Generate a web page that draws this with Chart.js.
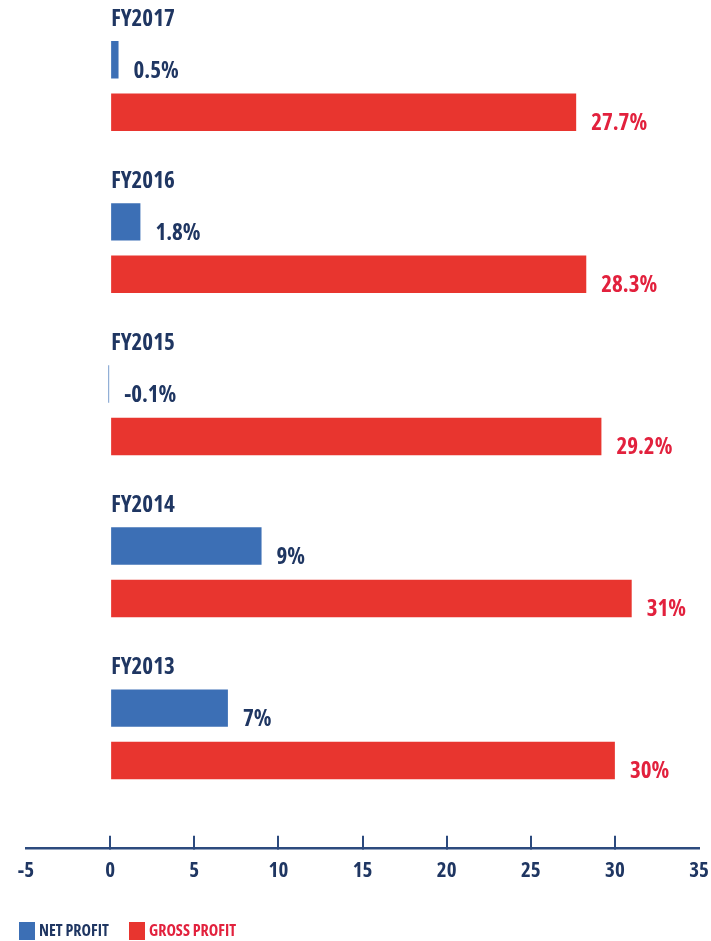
<!DOCTYPE html>
<html>
<head>
<meta charset="utf-8">
<script src="https://cdn.jsdelivr.net/npm/chart.js@4/dist/chart.umd.min.js"></script>
<style>
  html, body { margin: 0; padding: 0; background: #ffffff; }
  #wrap { width: 711px; height: 941px; position: relative; }
</style>
</head>
<body>
<div id="wrap"><canvas id="chart"></canvas></div>
<script>
// Margin figures by financial year (percent)
const years = ['FY2017', 'FY2016', 'FY2015', 'FY2014', 'FY2013'];
const netProfit = [0.5, 1.8, -0.1, 9, 7];
const grossProfit = [27.7, 28.3, 29.2, 31, 30];
const seriesNames = ['NET PROFIT', 'GROSS PROFIT'];
const xTicks = [-5, 0, 5, 10, 15, 20, 25, 30, 35];

const FAMILY = "'Open Sans'";
const fontStr = (px) => `bold condensed ${px}px ${FAMILY}`;
const NAVY = '#1f3662';
const AXIS = '#2c4a7e';
const BLUE = '#3c6fb5';
const RED = '#e8352f';
const RED_TEXT = '#e2213d';
const textColors = [NAVY, RED_TEXT];

// Year captions sit above each pair of bars
const yearLabels = {
  id: 'yearLabels',
  afterDatasetsDraw(chart) {
    const { ctx, scales: { x, y } } = chart;
    ctx.save();
    ctx.font = fontStr(23);
    ctx.fillStyle = NAVY;
    ctx.textAlign = 'left';
    ctx.textBaseline = 'middle';
    years.forEach((name, i) => {
      ctx.fillText(name, x.getPixelForValue(0) + 1, y.getPixelForValue(i) - 67);
    });
    ctx.restore();
  }
};

// Percent value printed just past the end of every bar
const valueLabels = {
  id: 'valueLabels',
  afterDatasetsDraw(chart) {
    const { ctx } = chart;
    ctx.save();
    ctx.font = fontStr(23);
    ctx.textAlign = 'left';
    ctx.textBaseline = 'alphabetic';
    chart.data.datasets.forEach((ds, di) => {
      const meta = chart.getDatasetMeta(di);
      ctx.fillStyle = textColors[di];
      meta.data.forEach((bar, i) => {
        const p = bar.getProps(['x', 'y', 'base', 'height'], true);
        const end = Math.max(p.x, p.base);
        ctx.fillText(ds.data[i].x + '%', end + 15, p.y + p.height / 2 - 1);
      });
    });
    ctx.restore();
  }
};

// Key along the bottom-left edge
const bottomKey = {
  id: 'bottomKey',
  afterDraw(chart) {
    const { ctx } = chart;
    const slots = [19, 129];
    ctx.save();
    ctx.font = fontStr(16);
    ctx.textAlign = 'left';
    ctx.textBaseline = 'middle';
    chart.data.datasets.forEach((ds, di) => {
      const left = slots[di];
      ctx.fillStyle = ds.backgroundColor;
      ctx.fillRect(left, 922, 16, 18);
      ctx.fillStyle = textColors[di];
      ctx.fillText(ds.label, left + 20, 931);
    });
    ctx.restore();
  }
};

new Chart(document.getElementById('chart'), {
  type: 'bar',
  data: {
    datasets: [
      {
        label: seriesNames[0],
        data: netProfit.map((v, i) => ({ x: v, y: i })),
        backgroundColor: BLUE
      },
      {
        label: seriesNames[1],
        data: grossProfit.map((v, i) => ({ x: v, y: i })),
        backgroundColor: RED
      }
    ]
  },
  options: {
    indexAxis: 'y',
    responsive: true,
    maintainAspectRatio: false,
    animation: false,
    categoryPercentage: 0.647,
    barPercentage: 0.714,
    layout: { padding: { left: 26, right: 12, top: 5, bottom: 34 } },
    plugins: {
      legend: { display: false },
      tooltip: { enabled: false }
    },
    scales: {
      y: {
        type: 'linear',
        display: false,
        offset: false,
        reverse: true,
        min: -0.5,
        max: 4.7,
        // one slot per financial year
        afterBuildTicks: (scale) => { scale.ticks = years.map((_, i) => ({ value: i })); }
      },
      x: {
        type: 'linear',
        position: 'bottom',
        min: xTicks[0],
        max: xTicks[xTicks.length - 1],
        afterBuildTicks: (scale) => { scale.ticks = xTicks.map(v => ({ value: v })); },
        afterFit: (scale) => { scale.paddingLeft = 0; scale.paddingRight = 0; },
        border: { display: true, color: AXIS, width: 2.5 },
        grid: {
          drawOnChartArea: false,
          drawTicks: true,
          tickLength: -12,
          lineWidth: 2,
          color: (c) => (c.tick && (c.tick.value === xTicks[0] || c.tick.value === xTicks[xTicks.length - 1]))
            ? 'rgba(0,0,0,0)' : AXIS
        },
        ticks: {
          padding: 23,
          color: NAVY,
          font: { family: FAMILY, size: 21, weight: 'bold condensed' }
        }
      }
    }
  },
  plugins: [yearLabels, valueLabels, bottomKey]
});
</script>
</body>
</html>
